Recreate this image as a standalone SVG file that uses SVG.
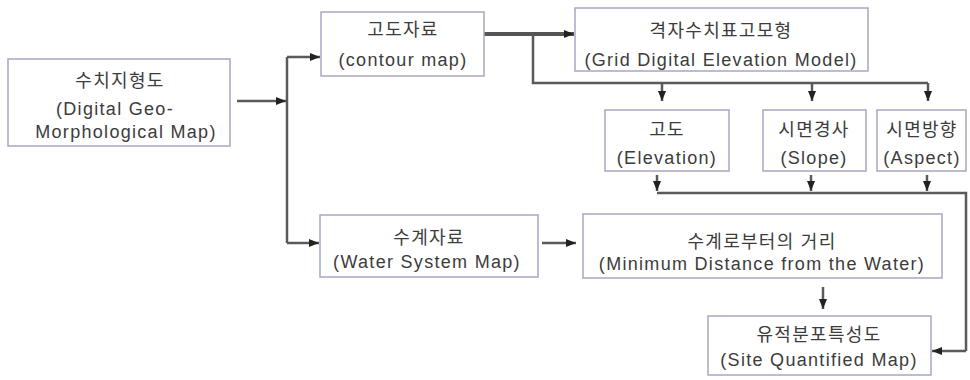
<svg xmlns="http://www.w3.org/2000/svg" width="970" height="380" viewBox="0 0 970 380">
<style>
.box{fill:#fff;stroke:#a6a6c4;stroke-width:1.5}
.t{font-family:"Liberation Sans","Noto Sans CJK KR",sans-serif;font-size:18px;fill:#3c3c3c;text-anchor:middle;letter-spacing:1.3px}
.ln{fill:none;stroke:#5a5a5a;stroke-width:2.5}
.thick{fill:none;stroke:#555;stroke-width:4}
</style>
<defs>
<marker id="ah" viewBox="0 0 10 10" refX="10" refY="5" markerWidth="10" markerHeight="10" markerUnits="userSpaceOnUse" orient="auto">
<path d="M0,1 L10,5 L0,9 Z" fill="#222"/>
</marker>
</defs>
<rect width="970" height="380" fill="#fff"/>
<g id="connectors">
<path class="ln" d="M237,101 H286" marker-end="url(#ah)"/>
<path class="ln" d="M287,57 V243"/>
<path class="ln" d="M287,57 H320" marker-end="url(#ah)"/>
<path class="ln" d="M287,243 H319" marker-end="url(#ah)"/>
<path class="thick" d="M484,34 H574" marker-end="url(#ah)"/>
<path class="ln" d="M533,34 V83 H928"/>
<path class="ln" d="M662,83 V101" marker-end="url(#ah)"/>
<path class="ln" d="M812,83 V101" marker-end="url(#ah)"/>
<path class="ln" d="M928,83 V101" marker-end="url(#ah)"/>
<path class="ln" d="M657,175 V191" marker-end="url(#ah)"/>
<path class="ln" d="M811,175 V191" marker-end="url(#ah)"/>
<path class="ln" d="M927,175 V191" marker-end="url(#ah)"/>
<path class="ln" d="M657,193 H966 V351"/>
<path class="ln" d="M966,351 H932" marker-end="url(#ah)"/>
<path class="ln" d="M542,243 H576" marker-end="url(#ah)"/>
<path class="ln" d="M823,287 V309" marker-end="url(#ah)"/>
</g>
<g id="n1">
<rect class="box" x="8" y="59" width="222" height="87"/>
<text class="t" x="120" y="87">수치지형도</text>
<text class="t" x="115" y="115">(Digital Geo-</text>
<text class="t" x="126" y="138">Morphological Map)</text>
</g>
<g id="n2">
<rect class="box" x="321" y="12" width="163" height="64"/>
<text class="t" x="403" y="36">고도자료</text>
<text class="t" x="403" y="66">(contour map)</text>
</g>
<g id="n3">
<rect class="box" x="575" y="8" width="293" height="63"/>
<text class="t" x="721" y="37">격자수치표고모형</text>
<text class="t" x="721" y="66">(Grid Digital Elevation Model)</text>
</g>
<g id="n4">
<rect class="box" x="605" y="110" width="124" height="61"/>
<text class="t" x="667" y="136">고도</text>
<text class="t" x="667" y="164">(Elevation)</text>
</g>
<g id="n5">
<rect class="box" x="763" y="110" width="103" height="61"/>
<text class="t" x="814" y="136">시면경사</text>
<text class="t" x="814" y="164">(Slope)</text>
</g>
<g id="n6">
<rect class="box" x="877" y="110" width="89" height="61"/>
<text class="t" x="922" y="136">시면방향</text>
<text class="t" x="922" y="164">(Aspect)</text>
</g>
<g id="n7">
<rect class="box" x="320" y="215" width="218" height="62"/>
<text class="t" x="429" y="244">수계자료</text>
<text class="t" x="427" y="268">(Water System Map)</text>
</g>
<g id="n8">
<rect class="box" x="583" y="214" width="359" height="64"/>
<text class="t" x="762" y="248">수계로부터의 거리</text>
<text class="t" x="762" y="270">(Minimum Distance from the Water)</text>
</g>
<g id="n9">
<rect class="box" x="708" y="316" width="223" height="59"/>
<text class="t" x="819" y="341">유적분포특성도</text>
<text class="t" x="819" y="366">(Site Quantified Map)</text>
</g>
</svg>
